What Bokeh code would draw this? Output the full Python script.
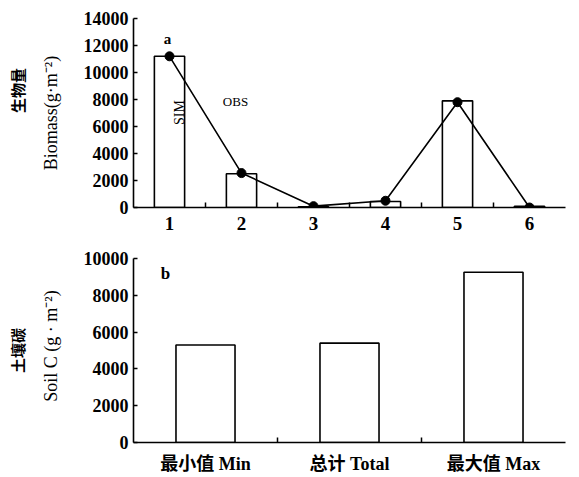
import math
from bokeh.plotting import figure
from bokeh.layouts import column
from bokeh.models import Label, FixedTicker, Range1d, LinearAxis
from bokeh.embed import file_html
from bokeh.resources import INLINE

# ---- data ----
sites = [1, 2, 3, 4, 5, 6]
sim_biomass = [11200, 2500, 60, 450, 7900, 80]
obs_biomass = [11200, 2550, 100, 500, 7800, 0]
biomass_ticks = [0, 2000, 4000, 6000, 8000, 10000, 12000, 14000]

soil_positions = [1, 2, 3]
soil_labels = ["最小值 Min", "总计 Total", "最大值 Max"]
soil_c = [5300, 5400, 9250]
soil_ticks = [0, 2000, 4000, 6000, 8000, 10000]

SERIF = "Liberation Serif"
MIXED = "'Liberation Serif', 'Noto Sans CJK SC'"
CJK = "Noto Sans CJK SC"


def style_axes(p, xticks, xminor, yticks):
    p.outline_line_color = None
    p.xgrid.visible = False
    p.ygrid.visible = False
    p.background_fill_color = "white"
    p.border_fill_color = "white"
    for ax in (p.xaxis[0], p.yaxis[0]):
        ax.axis_line_color = "black"
        ax.axis_line_width = 1.6
        ax.major_tick_line_color = "black"
        ax.major_tick_line_width = 1.5
        ax.minor_tick_line_color = "black"
        ax.minor_tick_line_width = 1.5
        ax.major_tick_in = 4
        ax.major_tick_out = 0
        ax.minor_tick_in = 5
        ax.minor_tick_out = 0
        ax.major_label_text_font = SERIF
        ax.major_label_text_font_style = "bold"
        ax.major_label_text_color = "black"
        ax.major_label_text_font_size = "18px"
    p.xaxis[0].ticker = FixedTicker(ticks=xticks, minor_ticks=xminor)
    p.xaxis[0].major_tick_line_color = None
    p.yaxis[0].ticker = FixedTicker(ticks=yticks, minor_ticks=[])
    p.yaxis[0].major_label_standoff = 5


def add_y_titles(p, english, chinese, en_standoff, cn_standoff):
    ax = p.yaxis[0]
    ax.axis_label = english
    ax.axis_label_text_font = SERIF
    ax.axis_label_text_font_style = "normal"
    ax.axis_label_text_font_size = "18px"
    ax.axis_label_text_color = "black"
    ax.axis_label_standoff = en_standoff
    extra = LinearAxis(ticker=FixedTicker(ticks=[], minor_ticks=[]),
                       axis_line_color=None, major_tick_line_color=None,
                       minor_tick_line_color=None, major_label_text_font_size="0px",
                       axis_label=chinese, axis_label_text_font=CJK,
                       axis_label_text_font_style="bold",
                       axis_label_text_font_size="15px",
                       axis_label_text_color="black",
                       axis_label_standoff=cn_standoff)
    p.add_layout(extra, "left")


def add_label(p, text, x, y, font, size, style="normal", angle=0.0):
    p.add_layout(Label(x=x, y=y, x_units="screen", y_units="screen", text=text,
                       text_font=font, text_font_size=size, text_font_style=style,
                       text_color="black", angle=angle, text_align="center",
                       text_baseline="middle"))


# ---- top panel: biomass ----
p1 = figure(width=576, height=238, output_backend="svg", toolbar_location=None,
            x_range=Range1d(0.5, 6.5), y_range=Range1d(0, 14000),
            min_border_left=133, min_border_right=2, min_border_top=18,
            min_border_bottom=31)
p1.vbar(x=sites, top=sim_biomass, width=0.42, bottom=0, fill_color="white",
        line_color="black", line_width=1.6)
p1.line(x=sites, y=obs_biomass, line_color="black", line_width=1.6)
p1.scatter(x=sites, y=obs_biomass, size=9, marker="circle", fill_color="black",
           line_color="black")
style_axes(p1, sites, [s + 0.5 for s in sites[:-1]], biomass_ticks)
p1.xaxis[0].major_label_standoff = 9
p1.xaxis[0].major_label_text_font_size = "19px"
add_y_titles(p1, "Biomass(g·m⁻²)", "\u3000\u3000\u3000生物量", 20, 10)

add_label(p1, "a", 34, 169, SERIF, "15px", "bold")
add_label(p1, "SIM", 46, 95, SERIF, "14px", "normal", math.pi / 2)
add_label(p1, "OBS", 102, 106, SERIF, "13px", "normal")

# ---- bottom panel: soil C ----
p2 = figure(width=576, height=238, output_backend="svg", toolbar_location=None,
            x_range=Range1d(0.5, 3.5), y_range=Range1d(0, 10000),
            min_border_left=133, min_border_right=11, min_border_top=20,
            min_border_bottom=34)
p2.vbar(x=soil_positions, top=soil_c, width=0.41, bottom=0, fill_color="white",
        line_color="black", line_width=1.6)
style_axes(p2, soil_positions, [s + 0.5 for s in soil_positions[:-1]], soil_ticks)
p2.xaxis[0].major_label_overrides = {pos: lab for pos, lab in zip(soil_positions, soil_labels)}
p2.xaxis[0].major_label_text_font = MIXED
p2.xaxis[0].major_label_text_font_size = "18px"
p2.xaxis[0].major_label_standoff = 11
add_y_titles(p2, "\u2002Soil C (g · m⁻²)", "土壤碳", 20, 10)

add_label(p2, "b", 32, 169, SERIF, "17px", "bold")

layout = column(p1, p2, spacing=0)
open("out.html", "w").write(file_html(layout, INLINE))
